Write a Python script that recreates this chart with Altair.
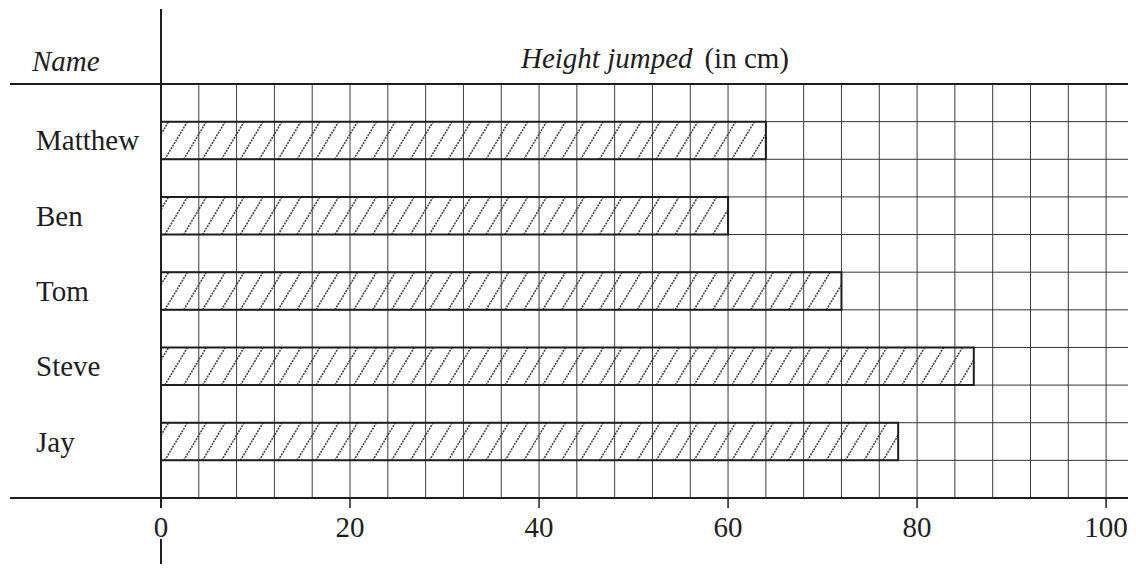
import altair as alt
import pandas as pd

# ---------------- data ----------------
names = ["Matthew", "Ben", "Tom", "Steve", "Jay"]
heights = [64, 60, 72, 86, 78]
row_tops = [1, 3, 5, 7, 9]            # grid row where each bar starts
grid_x = list(range(4, 101, 4))       # vertical grid lines (cm)
grid_rows = list(range(1, 11))        # thin horizontal grid lines
frame_rows = [0, 11]                  # heavy header / bottom lines
tick_values = [0, 20, 40, 60, 80, 100]
tick_labels = ["0", "20", "40", "60", "80", "100"]
header_left = ["Name"]
header_italic = ["Height jumped"]
header_regular = ["(in cm)"]

FONT = "Liberation Serif"
INK = "#1e1e1e"
FS = 29

xs = alt.Scale(domain=[0, 102], range=[153, 1117], nice=False, zero=False)
ys = alt.Scale(domain=[0, 11], range=[76, 490], nice=False, zero=False)

bars = pd.DataFrame({
    "name": names,
    "h": heights,
    "top": row_tops,
    "bottom": [r + 1 for r in row_tops],
    "mid": [r + 0.5 for r in row_tops],
    "zero": [0] * len(names),
})

# hatch texture, clipped to each bar
SPACING = 2.0
SLANT = 2.4
OFFSET = 0.4
hatch = []
for name, h, r in zip(names, heights, row_tops):
    k = -2
    while True:
        xb = OFFSET + k * SPACING
        if xb > h:
            break
        tmin = max(0.0, (0 - xb) / SLANT)
        tmax = min(1.0, (h - xb) / SLANT)
        if tmin < tmax:
            hatch.append({"x1": xb + tmin * SLANT, "y1": r + 1 - tmin,
                          "x2": xb + tmax * SLANT, "y2": r + 1 - tmax})
        k += 1
hatch_df = pd.DataFrame(hatch)

X = lambda f: alt.X(f, scale=xs, axis=None)
Y = lambda f: alt.Y(f, scale=ys, axis=None)

vgrid = alt.Chart(pd.DataFrame({"gx": grid_x, "a": 0, "b": 11})).mark_rule(
    color="#3c3c3c", strokeWidth=1).encode(x=X("gx:Q"), y=Y("a:Q"), y2="b:Q")

hgrid = alt.Chart(pd.DataFrame({"gy": grid_rows, "x0": 0})).mark_rule(
    color="#333333", strokeWidth=1).encode(x=X("x0:Q"), x2=alt.value(1120), y=Y("gy:Q"))

hatch_l = alt.Chart(hatch_df).mark_rule(
    color="#444444", strokeWidth=1.6, strokeDash=[2, 1]).encode(
    x=X("x1:Q"), x2="x2:Q", y=Y("y1:Q"), y2="y2:Q")

bar_l = alt.Chart(bars).mark_rect(
    fill="white", fillOpacity=0, stroke=INK, strokeWidth=2).encode(
    x=X("zero:Q"), x2="h:Q", y=Y("top:Q"), y2="bottom:Q")

frame = alt.Chart(pd.DataFrame({"gy": frame_rows})).mark_rule(
    color=INK, strokeWidth=2).encode(x=alt.value(2), x2=alt.value(1120), y=Y("gy:Q"))

axis_top = alt.Chart(pd.DataFrame({"v": [0]})).mark_rule(
    color=INK, strokeWidth=2).encode(x=X("v:Q"), y=alt.value(1), y2=alt.value(500))
axis_bot = alt.Chart(pd.DataFrame({"v": [0]})).mark_rule(
    color=INK, strokeWidth=2).encode(x=X("v:Q"), y=alt.value(531), y2=alt.value(556))

ticks = alt.Chart(pd.DataFrame({"v": tick_values[1:]})).mark_rule(
    color=INK, strokeWidth=1.5).encode(x=X("v:Q"), y=alt.value(490), y2=alt.value(500))

tick_text = alt.Chart(pd.DataFrame({"v": tick_values, "lab": tick_labels})).mark_text(
    font=FONT, fontSize=FS, align="center", baseline="alphabetic", color=INK).encode(
    x=X("v:Q"), y=alt.value(529), text="lab:N")

name_text = alt.Chart(bars).mark_text(
    font=FONT, fontSize=FS, align="left", baseline="alphabetic", dy=10, color=INK).encode(
    x=alt.value(28), y=Y("mid:Q"), text="name:N")

hdr_name = alt.Chart(pd.DataFrame({"t": header_left})).mark_text(
    font=FONT, fontSize=FS, fontStyle="italic", align="left", baseline="alphabetic",
    color=INK).encode(x=alt.value(24), y=alt.value(63), text="t:N")

hdr_it = alt.Chart(pd.DataFrame({"t": header_italic})).mark_text(
    font=FONT, fontSize=FS, fontStyle="italic", align="left", baseline="alphabetic",
    color=INK).encode(x=alt.value(513), y=alt.value(60), text="t:N")

hdr_reg = alt.Chart(pd.DataFrame({"t": header_regular})).mark_text(
    font=FONT, fontSize=FS, align="right", baseline="alphabetic",
    color=INK).encode(x=alt.value(781), y=alt.value(60), text="t:N")

chart = alt.layer(
    vgrid, hgrid, hatch_l, bar_l, frame, axis_top, axis_bot, ticks,
    tick_text, name_text, hdr_name, hdr_it, hdr_reg,
).properties(
    width=1120, height=556, padding=0,
    autosize=alt.AutoSizeParams(type="none"),
    background="white",
).configure_view(strokeWidth=0)

chart.save("out.html", embed_options={"renderer": "svg", "actions": False})
